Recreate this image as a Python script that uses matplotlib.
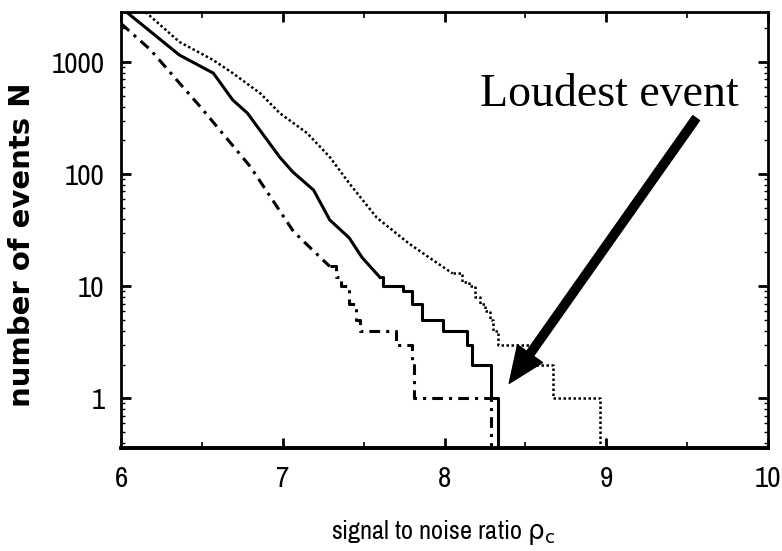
import numpy as np
import matplotlib.pyplot as plt

# cumulative number of events above a given SNR
# upper curve (dotted)
upper_snr = [6.0, 6.15, 6.36, 6.57, 6.69, 6.86, 6.98, 7.15, 7.29, 7.41, 7.58, 7.78, 7.93, 8.05]
upper_n = [4300, 2800, 1513, 1040, 796, 526, 351, 232, 142, 83, 41, 24, 17, 13]
upper_tail_snr = [8.05, 8.11, 8.15, 8.19, 8.22, 8.25, 8.28, 8.30, 8.33, 8.54, 8.67, 8.96]
upper_tail_n = [13, 11, 10, 8, 7, 6, 5, 4, 3, 2, 1, 0]

# middle curve (solid)
mid_snr = [6.0, 6.055, 6.36, 6.57, 6.69, 6.78, 6.98, 7.06, 7.19, 7.29, 7.41, 7.49, 7.60]
mid_n = [3050, 2630, 1155, 796, 458, 351, 142, 105, 72, 39, 27, 18, 12]
mid_tail_snr = [7.60, 7.62, 7.74, 7.80, 7.86, 7.99, 8.14, 8.17, 8.29, 8.33]
mid_tail_n = [12, 10, 9, 7, 5, 4, 3, 2, 1, 0]

# lower curve (dash-dot)
low_snr = [6.0, 6.18, 6.36, 6.49, 6.80, 7.06, 7.105, 7.29]
low_n = [2200, 1290, 650, 398, 116, 31.6, 27, 15]
low_tail_snr = [7.29, 7.33, 7.36, 7.41, 7.45, 7.48, 7.70, 7.80, 7.81, 8.29]
low_tail_n = [15, 12, 10, 7, 5, 4, 3, 2, 1, 0]

x_ticks = [6, 7, 8, 9, 10]
y_ticks = [1, 10, 100, 1000]
y_tick_labels = ["1", "10", "100", "1000"]

narrow = ["Archivo Narrow", "Liberation Sans Narrow", "DejaVu Sans"]

fig = plt.figure(figsize=(7.82, 5.51), dpi=100)
ax = fig.add_axes([0.155, 0.187, 0.827, 0.791])


def draw(head_x, head_y, tail_x, tail_y, **style):
    # zero counts go below the axis so the last drop runs off the bottom
    tail_y = np.clip(np.array(tail_y, dtype=float), 0.1, None)
    ax.plot(head_x, head_y, color="black", **style)
    ax.step(tail_x, tail_y, where="post", color="black", **style)


draw(upper_snr, upper_n, upper_tail_snr, upper_tail_n, lw=1.8, linestyle=(0, (1, 1)))
draw(mid_snr, mid_n, mid_tail_snr, mid_tail_n, lw=2.2, linestyle="-")
draw(low_snr, low_n, low_tail_snr, low_tail_n, lw=2.2, linestyle=(0, (3.5, 2, 1, 2)))

ax.set_yscale("log")
ax.set_xlim(6, 10)
ax.set_ylim(0.36, 2790)

ax.set_xticks(x_ticks)
ax.set_xticks(np.arange(6.5, 10, 1.0), minor=True)
ax.set_yticks(y_ticks)
ax.set_yticklabels(y_tick_labels)
ax.tick_params(which="major", direction="in", length=7, width=2, top=True, right=True,
               labelsize=21, pad=12)
ax.tick_params(which="minor", direction="in", length=4, width=1.2, top=True, right=True)
ax.tick_params(axis="y", which="minor", length=3, width=1)
for lab in ax.get_xticklabels() + ax.get_yticklabels():
    lab.set_family(narrow)
for side in ["left", "right", "top"]:
    ax.spines[side].set_linewidth(2)
ax.spines["bottom"].set_linewidth(2.8)

fig.text(0.028, 0.555, "number of events N", rotation=90, ha="center", va="center",
         fontsize=21, fontweight="bold", family="DejaVu Sans")
fig.text(0.567, 0.034, r"signal to noise ratio $\mathrm{\rho}_\mathrm{c}$", ha="center", va="center",
         fontsize=19, family=narrow)

ax.text(9.02, 507, "Loudest event", ha="center", va="center", fontsize=33,
        family="Liberation Serif")
ax.annotate("", xy=(8.40, 1.36), xytext=(9.556, 316),
            arrowprops=dict(arrowstyle="simple,head_length=1.3,head_width=1.1,tail_width=0.3",
                            mutation_scale=20, color="black", shrinkA=0, shrinkB=0))

fig.savefig("out.png", dpi=100)
